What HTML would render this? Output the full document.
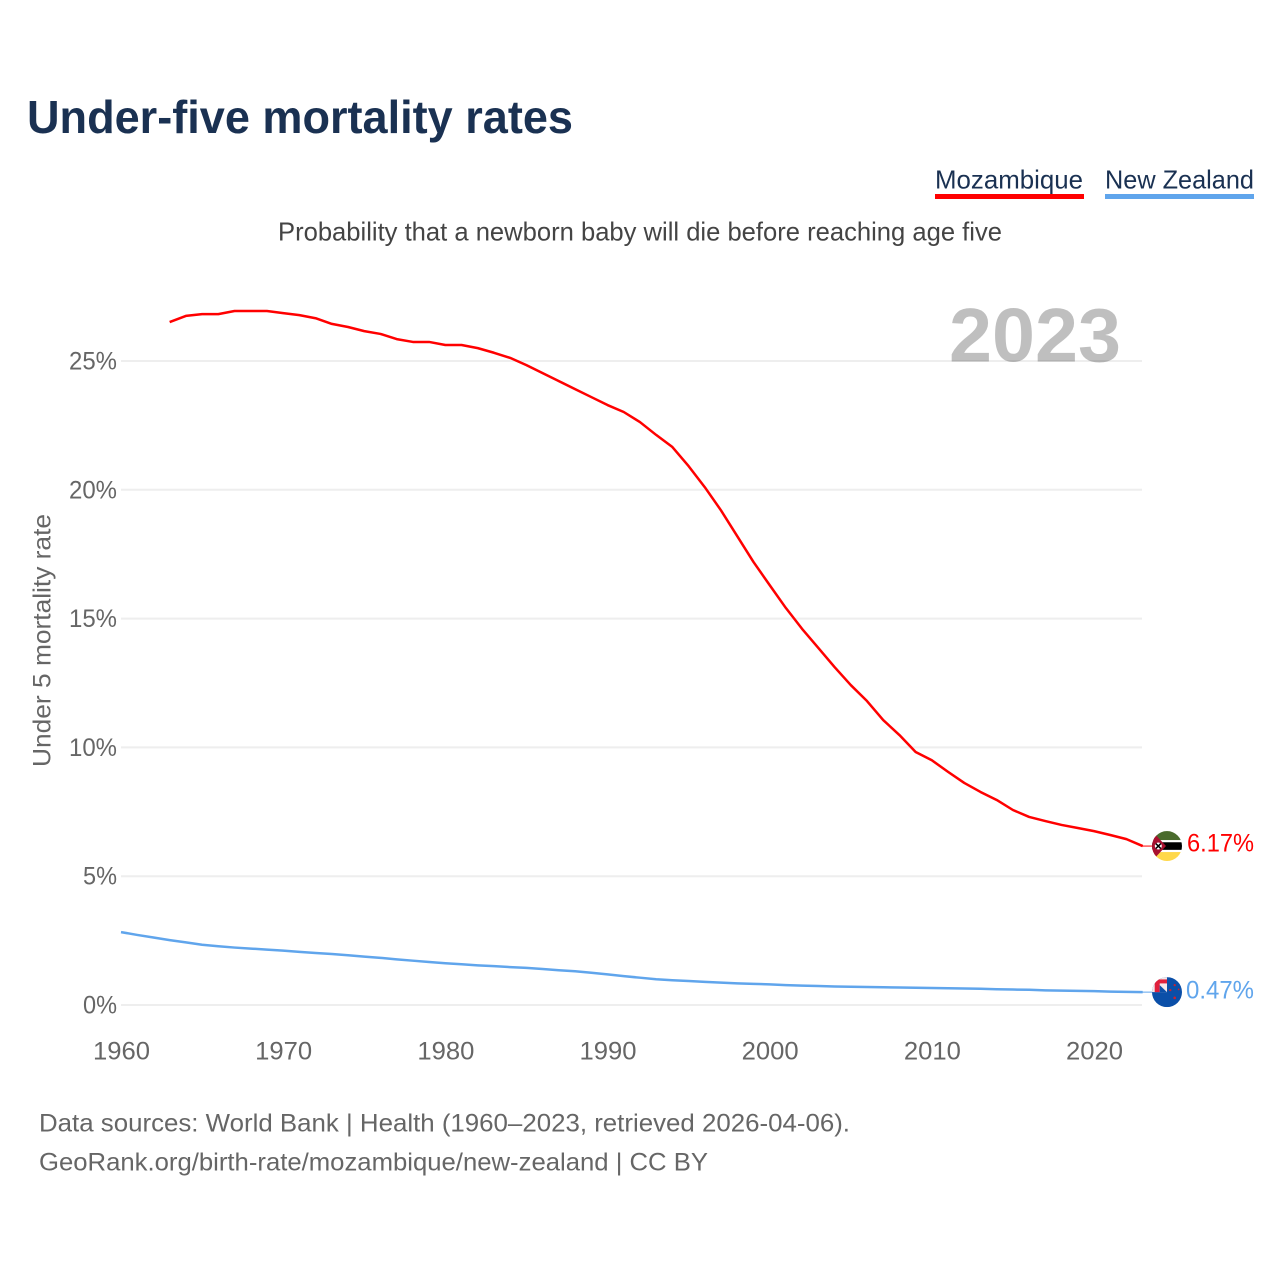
<!DOCTYPE html>
<html lang="en">
<head>
<meta charset="utf-8">
<title>Under-five mortality rates</title>
<style>
html,body{margin:0;padding:0;background:#fff}
svg{display:block}
text{font-family:"Liberation Sans",sans-serif}
</style>
</head>
<body>
<svg id="chart" width="1280" height="1280" viewBox="0 0 1280 1280" xmlns="http://www.w3.org/2000/svg">
  <defs>
    <clipPath id="flag-clip"><circle cx="0" cy="0" r="15"></circle></clipPath>
  </defs>
  <rect x="0" y="0" width="1280" height="1280" fill="#fff"></rect>
  <text x="27" y="133" font-size="46" font-weight="700" fill="#1a3152" textLength="546" lengthAdjust="spacingAndGlyphs">Under-five mortality rates</text>

  <g>
    <text x="935" y="188.5" font-size="26" fill="#1a3152" textLength="148" lengthAdjust="spacingAndGlyphs">Mozambique</text>
    <rect x="935" y="194" width="149" height="5" fill="#ff0000"></rect>
  </g>
  <g>
    <text x="1105" y="188.5" font-size="26" fill="#1a3152" textLength="149" lengthAdjust="spacingAndGlyphs">New Zealand</text>
    <rect x="1105" y="194" width="149" height="5" fill="#60a5ec"></rect>
  </g>

  <text x="278" y="240.5" font-size="26" fill="#444" textLength="724" lengthAdjust="spacingAndGlyphs">Probability that a newborn baby will die before reaching age five</text>

  <g id="grid"></g>
  <text x="949" y="361.5" font-size="76" font-weight="700" fill="#000" fill-opacity="0.25" textLength="172" lengthAdjust="spacingAndGlyphs">2023</text>
  <g id="y-ticks"></g>
  <g id="x-ticks"></g>
  <text transform="translate(50.5,640.5) rotate(-90)" text-anchor="middle" font-size="25" fill="#666" textLength="253" lengthAdjust="spacingAndGlyphs">Under 5 mortality rate</text>

  <g id="series"></g>

  <g id="flag-mz" clip-path="url(#flag-clip)">
    <rect x="-15" y="-15" width="30" height="30" fill="#fff"></rect>
    <rect x="-15" y="-15" width="30" height="9" fill="#4a6b2d"></rect>
    <rect x="-15" y="-3.8" width="30" height="7.6" fill="#000"></rect>
    <rect x="-15" y="6" width="30" height="9" fill="#ffd84a"></rect>
    <polygon points="-15,-15 -1,0 -15,15" fill="#a8102f"></polygon>
    <circle cx="-8.7" cy="0" r="3.5" fill="#fff"></circle>
    <path d="M-11.2,-2.5 L-6.2,2.5 M-6.2,-2.5 L-11.2,2.5" stroke="#000" stroke-width="1.5"></path>
  </g>
  <g id="flag-nz" clip-path="url(#flag-clip)">
    <rect x="-15" y="-15" width="30" height="30" fill="#0b4fa8"></rect>
    <rect x="-15" y="-15" width="15" height="15" fill="#f4e8ea"></rect>
    <rect x="-12.3" y="-12.7" width="12.3" height="4" fill="#e0203c"></rect>
    <rect x="-12.3" y="-12.7" width="5" height="12.7" fill="#e0203c"></rect>
    <polygon points="-7.3,-7 0,0 -7.3,0" fill="#0b4fa8"></polygon>
    <circle cx="7.7" cy="-7" r="1.1" fill="#d0202c"></circle>
    <circle cx="3.3" cy="-2" r="1.1" fill="#d0202c"></circle>
    <circle cx="11.7" cy="-2.7" r="0.9" fill="#d0202c"></circle>
    <circle cx="7.7" cy="5.7" r="1.3" fill="#d0202c"></circle>
  </g>

  <text x="39" y="1131.5" font-size="25" fill="#666" textLength="811" lengthAdjust="spacingAndGlyphs">Data sources: World Bank | Health (1960–2023, retrieved 2026-04-06).</text>
  <text x="39" y="1170.5" font-size="25" fill="#666" textLength="669" lengthAdjust="spacingAndGlyphs">GeoRank.org/birth-rate/mozambique/new-zealand | CC BY</text>
</svg>
<script>
var yTickValues = [0, 5, 10, 15, 20, 25];
var yTickLabels = ["0%", "5%", "10%", "15%", "20%", "25%"];
var xTickValues = [1960, 1970, 1980, 1990, 2000, 2010, 2020];
var xTickLabels = ["1960", "1970", "1980", "1990", "2000", "2010", "2020"];
var mozambiqueStartYear = 1963;
var mozambiqueValues = [26.51,26.75,26.82,26.82,26.94,26.94,26.94,26.86,26.78,26.66,26.44,26.32,26.16,26.05,25.85,25.74,25.74,25.62,25.62,25.5,25.32,25.12,24.84,24.53,24.22,23.91,23.6,23.29,23.02,22.63,22.13,21.66,20.92,20.1,19.2,18.2,17.2,16.3,15.41,14.6,13.86,13.12,12.42,11.8,11.06,10.48,9.82,9.5,9.05,8.62,8.27,7.96,7.57,7.3,7.14,6.99,6.87,6.75,6.6,6.44,6.17];
var newZealandStartYear = 1960;
var newZealandValues = [2.83,2.72,2.62,2.52,2.43,2.34,2.28,2.23,2.19,2.15,2.11,2.06,2.02,1.98,1.93,1.88,1.83,1.77,1.72,1.67,1.62,1.58,1.54,1.51,1.47,1.44,1.4,1.35,1.31,1.25,1.19,1.12,1.06,1,0.96,0.93,0.9,0.87,0.84,0.82,0.8,0.77,0.75,0.74,0.72,0.71,0.7,0.69,0.68,0.67,0.66,0.65,0.64,0.63,0.61,0.6,0.59,0.57,0.56,0.55,0.54,0.52,0.51,0.5];
var mozambiqueLabel = "6.17%";
var newZealandLabel = "0.47%";

var NS = "http://www.w3.org/2000/svg";
function xScale(year) { return 121 + (year - 1960) * 16.217; }
function yScale(value) { return 1005 - value * 25.76; }
function make(tag, parent, attrs) {
  var el = document.createElementNS(NS, tag);
  for (var k in attrs) { el.setAttribute(k, attrs[k]); }
  parent.appendChild(el);
  return el;
}

var grid = document.getElementById("grid");
var yTicks = document.getElementById("y-ticks");
var xTicks = document.getElementById("x-ticks");
var seriesGroup = document.getElementById("series");
var svgRoot = document.getElementById("chart");

yTickValues.forEach(function (v, i) {
  var line = make("line", grid, { x1: 121, x2: 1142, y1: yScale(v), y2: yScale(v), stroke: "#eeeeee", "stroke-width": 2 });
  
  
  var w = yTickLabels[i].length === 2 ? 34 : 48;
  var t = make("text", yTicks, { x: 117 - w, y: yScale(v) + 8.5, "font-size": 25, fill: "#666", textLength: w, lengthAdjust: "spacingAndGlyphs" });
  t.textContent = yTickLabels[i];
  
  
});

xTickValues.forEach(function (v, i) {
  var t = make("text", xTicks, { x: xScale(v) - 28, y: 1059.5, "font-size": 25, fill: "#666", textLength: 57, lengthAdjust: "spacingAndGlyphs" });
  t.textContent = xTickLabels[i];
  
  
});

function pathFor(values, startYear) {
  return values.map(function (v, i) {
    return (i ? "L" : "M") + xScale(startYear + i).toFixed(2) + "," + yScale(v).toFixed(2);
  }).join(" ");
}

var mozLine = make("path", seriesGroup, { d: pathFor(mozambiqueValues, mozambiqueStartYear), fill: "none", stroke: "#ff0000", "stroke-width": 2.5, "stroke-linejoin": "round" });



var nzLine = make("path", seriesGroup, { d: pathFor(newZealandValues, newZealandStartYear), fill: "none", stroke: "#60a5ec", "stroke-width": 2.5, "stroke-linejoin": "round" });



var mozEndY = yScale(mozambiqueValues[mozambiqueValues.length - 1]);
var nzEndY = yScale(newZealandValues[newZealandValues.length - 1]);

var mozConnector = make("line", seriesGroup, { x1: 1142, x2: 1153, y1: mozEndY, y2: mozEndY, stroke: "#ff0000", "stroke-width": 1 });



var nzConnector = make("line", seriesGroup, { x1: 1142, x2: 1153, y1: nzEndY, y2: nzEndY, stroke: "#60a5ec", "stroke-width": 1 });



document.getElementById("flag-mz").setAttribute("transform", "translate(1167," + mozEndY + ")");
document.getElementById("flag-nz").setAttribute("transform", "translate(1167," + nzEndY + ")");

var mozValueText = make("text", svgRoot, { x: 1187, y: mozEndY + 5.5, "font-size": 25, fill: "#ff0000", textLength: 67, lengthAdjust: "spacingAndGlyphs" });
mozValueText.textContent = mozambiqueLabel;



var nzValueText = make("text", svgRoot, { x: 1186, y: nzEndY + 6.3, "font-size": 25, fill: "#60a5ec", textLength: 68, lengthAdjust: "spacingAndGlyphs" });
nzValueText.textContent = newZealandLabel;


</script>
</body>
</html>
